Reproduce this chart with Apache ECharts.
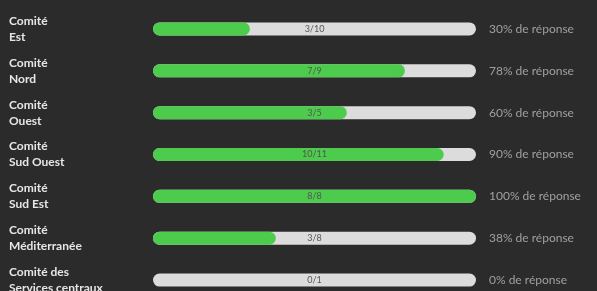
<!DOCTYPE html>
<html>
<head>
<meta charset="utf-8">
<script src="https://cdn.jsdelivr.net/npm/echarts@6/dist/echarts.min.js"></script>
<style>
  html, body { margin: 0; padding: 0; background: #2b2b2b; }
  #chart { width: 597px; height: 291px; }
</style>
</head>
<body>
<div id="chart"></div>
<script>
// comités et taux de réponse
const categories = ['Comité\nEst', 'Comité\nNord', 'Comité\nOuest', 'Comité\nSud Ouest', 'Comité\nSud Est', 'Comité\nMéditerranée', 'Comité des\nServices centraux'];
const answered = [3, 7, 3, 10, 8, 3, 0];
const total = [10, 9, 5, 11, 8, 8, 1];
const percentLabels = [30, 78, 60, 90, 100, 38, 0];

const ratios = percentLabels.map(function (p) { return p / 100; });

const chart = echarts.init(document.getElementById('chart'));
const option = {
  backgroundColor: '#2b2b2b',
  animation: false,
  grid: {
    left: 153,
    right: 121,
    top: 8,
    height: 293,
    outerBoundsMode: 'none'
  },
  xAxis: {
    type: 'value',
    min: 0,
    max: 1,
    show: false
  },
  yAxis: [
    {
      type: 'category',
      data: categories,
      inverse: true,
      axisLine: { show: false },
      axisTick: { show: false },
      axisLabel: {
        align: 'left',
        margin: 144,
        color: '#e6e6e6',
        fontFamily: 'Lato',
        fontWeight: 'bold',
        fontSize: 12,
        lineHeight: 16
      }
    },
    {
      type: 'category',
      data: categories,
      inverse: true,
      position: 'right',
      axisLine: { show: false },
      axisTick: { show: false },
      axisLabel: {
        margin: 13,
        color: '#a0a0a0',
        fontFamily: 'Lato',
        fontSize: 12,
        formatter: function (val, i) {
          return percentLabels[i] + '% de réponse';
        }
      }
    }
  ],
  series: [
    {
      name: 'total',
      type: 'bar',
      data: total.map(function () { return 1; }),
      barWidth: 13,
      barGap: '-100%',
      itemStyle: { color: '#dcdcdc', borderRadius: 7 },
      z: 1
    },
    {
      name: 'réponses',
      type: 'bar',
      data: ratios,
      barWidth: 13,
      barGap: '-100%',
      itemStyle: { color: '#4ccb4c', borderRadius: 7 },
      z: 2
    },
    {
      name: 'label',
      type: 'bar',
      data: total.map(function () { return 1; }),
      barWidth: 13,
      barGap: '-100%',
      itemStyle: { color: 'transparent' },
      label: {
        show: true,
        position: 'inside',
        color: '#555555',
        fontFamily: 'Lato',
        fontSize: 9,
        formatter: function (p) {
          return answered[p.dataIndex] + '/' + total[p.dataIndex];
        }
      },
      z: 3
    }
  ]
};
chart.setOption(option);
</script>
</body>
</html>
